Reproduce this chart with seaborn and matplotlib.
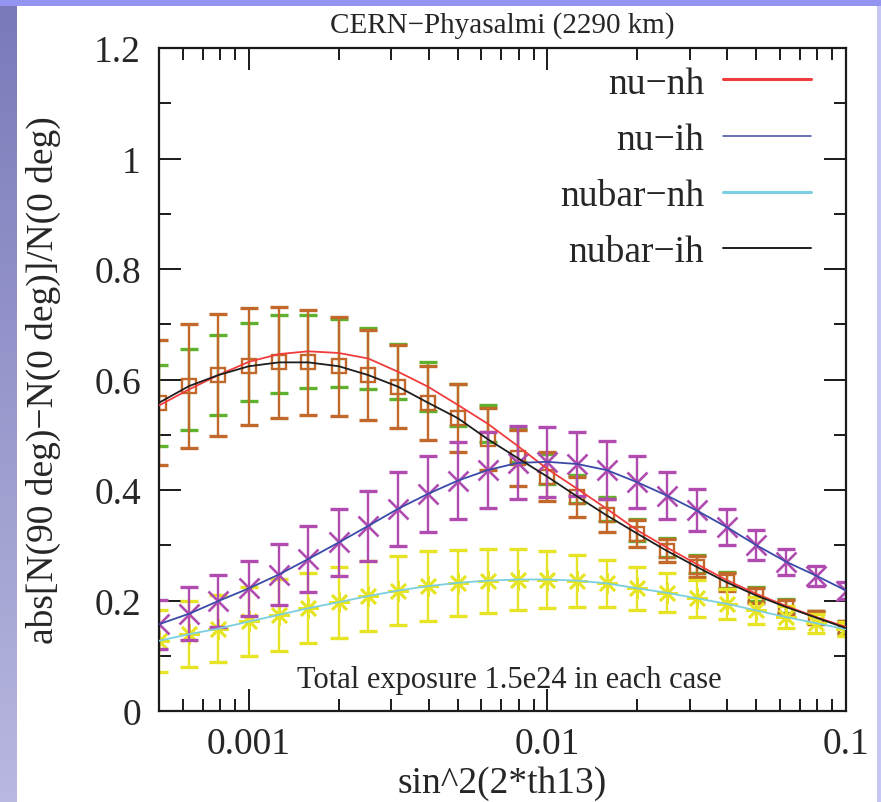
import numpy as np
import pandas as pd
import matplotlib
matplotlib.use("Agg")
import matplotlib.pyplot as plt
from matplotlib.patches import Rectangle
from matplotlib.ticker import (LogLocator, MultipleLocator, FixedLocator,
                               FixedFormatter, NullFormatter)
import seaborn as sns

# ---- data ---------------------------------------------------------------
sin2_2th13 = [0.0005, 0.00063, 0.00079, 0.001, 0.00126, 0.00158, 0.002,
              0.00251, 0.00316, 0.00398, 0.00501, 0.00631, 0.00794, 0.01,
              0.0126, 0.0158, 0.02, 0.0251, 0.0316, 0.0398, 0.0501, 0.0631,
              0.0794, 0.1]

nu_nh = [0.553, 0.582, 0.608, 0.632, 0.646, 0.651, 0.648, 0.638, 0.614,
         0.587, 0.554, 0.520, 0.480, 0.438, 0.402, 0.366, 0.327, 0.296,
         0.266, 0.237, 0.212, 0.190, 0.170, 0.152]
nu_nh_err = [0.074, 0.074, 0.073, 0.071, 0.070, 0.066, 0.062, 0.055, 0.050,
             0.044, 0.038, 0.033, 0.030, 0.027, 0.025, 0.022, 0.020, 0.018,
             0.016, 0.015, 0.013, 0.012, 0.011, 0.010]

nu_ih = [0.157, 0.176, 0.199, 0.222, 0.247, 0.275, 0.305, 0.335, 0.366,
         0.393, 0.417, 0.436, 0.449, 0.451, 0.447, 0.436, 0.414, 0.390,
         0.363, 0.333, 0.300, 0.270, 0.245, 0.218]
nu_ih_err = [0.044, 0.048, 0.047, 0.050, 0.055, 0.060, 0.061, 0.064, 0.067,
             0.069, 0.069, 0.069, 0.066, 0.063, 0.058, 0.052, 0.047, 0.042,
             0.038, 0.032, 0.027, 0.024, 0.018, 0.015]

nubar_nh = [0.127, 0.139, 0.149, 0.162, 0.174, 0.186, 0.197, 0.208, 0.218,
            0.226, 0.232, 0.236, 0.238, 0.238, 0.236, 0.231, 0.222, 0.214,
            0.204, 0.194, 0.182, 0.170, 0.159, 0.148]
nubar_nh_err = [0.056, 0.060, 0.061, 0.062, 0.065, 0.063, 0.064, 0.063,
                0.063, 0.063, 0.060, 0.058, 0.056, 0.051, 0.047, 0.042,
                0.039, 0.035, 0.033, 0.027, 0.025, 0.020, 0.017, 0.013]

nubar_ih = [0.558, 0.588, 0.608, 0.624, 0.631, 0.631, 0.624, 0.608, 0.587,
            0.558, 0.530, 0.492, 0.458, 0.424, 0.388, 0.354, 0.321, 0.290,
            0.261, 0.233, 0.209, 0.188, 0.169, 0.150]
nubar_ih_err = [0.113, 0.112, 0.110, 0.106, 0.101, 0.095, 0.090, 0.082,
                0.075, 0.067, 0.061, 0.056, 0.050, 0.044, 0.036, 0.030,
                0.025, 0.021, 0.019, 0.016, 0.014, 0.013, 0.012, 0.011]

series_names = ["nu−nh", "nu−ih", "nubar−nh", "nubar−ih"]
series_values = [nu_nh, nu_ih, nubar_nh, nubar_ih]
series_errors = [nu_nh_err, nu_ih_err, nubar_nh_err, nubar_ih_err]

x_tick_values = [0.001, 0.01, 0.1]
x_tick_labels = ["0.001", "0.01", "0.1"]
y_tick_values = [0, 0.2, 0.4, 0.6, 0.8, 1.0, 1.2]
y_tick_labels = ["0", "0.2", "0.4", "0.6", "0.8", "1", "1.2"]

# ---- styling ------------------------------------------------------------
curve_colors = {"nu−nh": "#f03c3c", "nu−ih": "#3a4aa8",
                "nubar−nh": "#7ccfe0", "nubar−ih": "#1e1e1e"}
legend_widths = {"nu−nh": 2.2, "nu−ih": 1.1, "nubar−nh": 2.2, "nubar−ih": 1.4}
point_styles = {
    "nu−nh": dict(color="#5fb22e", marker=None),
    "nubar−nh": dict(color="#e6e424", marker=(8, 2, 0), ms=15, mew=1.9),
    "nu−ih": dict(color="#b04cb0", marker="x", ms=14, mew=1.9),
    "nubar−ih": dict(color="#c2682a", marker="s", ms=10.5, mfc="none", mew=1.7),
}
draw_order = ["nu−nh", "nubar−ih", "nubar−nh", "nu−ih"]

sns.set_style("ticks")
plt.rcParams["font.family"] = ["Liberation Serif", "DejaVu Serif"]

W, H = 881, 803
fig = plt.figure(figsize=(W / 100, H / 100), dpi=100)
fig.patch.set_facecolor("white")

# slide frame: periwinkle band on top, gradient band on the left
top_h = 7
left_w = 17
fig.add_artist(Rectangle((0, 1 - top_h / H), 1, top_h / H,
                         transform=fig.transFigure, color="#9494f2",
                         lw=0, zorder=0))
fig.add_artist(Rectangle((1 - 4 / W, 0), 4 / W, 1 - top_h / H,
                         transform=fig.transFigure, color="#c6c6f4",
                         lw=0, zorder=0))
grad_ax = fig.add_axes([0, 0, left_w / W, 1 - top_h / H])
top_rgb = np.array([0x7a, 0x7a, 0xba]) / 255
bot_rgb = np.array([0xb8, 0xb8, 0xe0]) / 255
t = np.linspace(0, 1, 256)[:, None]
grad = top_rgb[None, :] * (1 - t) + bot_rgb[None, :] * t
grad_ax.imshow(grad[:, None, :], aspect="auto", interpolation="bilinear")
grad_ax.set_axis_off()

# main plot area
ax_l, ax_r, ax_t, ax_b = 159, 846, 49, 712
ax = fig.add_axes([ax_l / W, 1 - ax_b / H, (ax_r - ax_l) / W, (ax_b - ax_t) / H])
ax.set_facecolor("white")
ax.set_xscale("log")

# data points with error bars
for name in draw_order:
    i = series_names.index(name)
    st = point_styles[name]
    ax.errorbar(sin2_2th13, series_values[i], yerr=series_errors[i],
                fmt="none", ecolor=st["color"], elinewidth=1.7,
                capsize=6.5, capthick=2.4, zorder=2)
    if st["marker"] is not None:
        ax.plot(sin2_2th13, series_values[i], linestyle="none",
                marker=st["marker"], markersize=st["ms"],
                markerfacecolor=st.get("mfc", st["color"]),
                markeredgecolor=st["color"], markeredgewidth=st["mew"],
                zorder=2)

# curves
curves = pd.DataFrame({
    "sin2_2th13": np.tile(sin2_2th13, len(series_names)),
    "value": np.concatenate(series_values),
    "series": np.repeat(series_names, len(sin2_2th13)),
})
sns.lineplot(data=curves, x="sin2_2th13", y="value", hue="series",
             hue_order=series_names, palette=curve_colors, estimator=None,
             sort=True, linewidth=1.3, ax=ax, zorder=3)

ax.set_xlim(0.0005, 0.1)
ax.set_ylim(0, 1.2)

ax.xaxis.set_major_locator(FixedLocator(x_tick_values))
ax.xaxis.set_major_formatter(FixedFormatter(x_tick_labels))
ax.xaxis.set_minor_locator(LogLocator(base=10, subs=np.arange(2, 10)))
ax.xaxis.set_minor_formatter(NullFormatter())
ax.yaxis.set_major_locator(FixedLocator(y_tick_values))
ax.yaxis.set_major_formatter(FixedFormatter(y_tick_labels))
ax.yaxis.set_minor_locator(MultipleLocator(0.1))

ax.tick_params(which="both", direction="in", top=True, right=True,
               color="#1a1a1a", width=1.4)
ax.tick_params(which="major", length=16)
ax.tick_params(which="minor", length=8.5)
ax.tick_params(axis="y", which="major", labelsize=27, pad=13)
ax.tick_params(axis="x", which="major", labelsize=27, pad=11)
for sp in ax.spines.values():
    sp.set_visible(True)
    sp.set_linewidth(1.6)
    sp.set_color("#1a1a1a")

ax.set_xlabel("sin^2(2*th13)", fontsize=27, labelpad=3)
ax.set_ylabel("abs[N(90 deg)−N(0 deg)]/N(0 deg)", fontsize=27, labelpad=24)
ax.set_title("CERN−Phyasalmi (2290 km)", fontsize=21, pad=12)

ax.text((509 - ax_l) / (ax_r - ax_l), (ax_b - 688) / (ax_b - ax_t),
        "Total exposure 1.5e24 in each case", transform=ax.transAxes,
        ha="center", va="baseline", fontsize=22)

handles, labels = ax.get_legend_handles_labels()
leg = ax.legend(handles, labels, loc="upper right",
                bbox_to_anchor=((811 - ax_l) / (ax_r - ax_l),
                                (ax_b - 67) / (ax_b - ax_t)),
                frameon=False, markerfirst=False, fontsize=27,
                handlelength=2.35, handletextpad=0.5, labelspacing=0.58,
                borderpad=0, borderaxespad=0)
for line, lab in zip(leg.get_lines(), labels):
    line.set_linewidth(legend_widths[lab])

fig.savefig("out.png", dpi=100)
